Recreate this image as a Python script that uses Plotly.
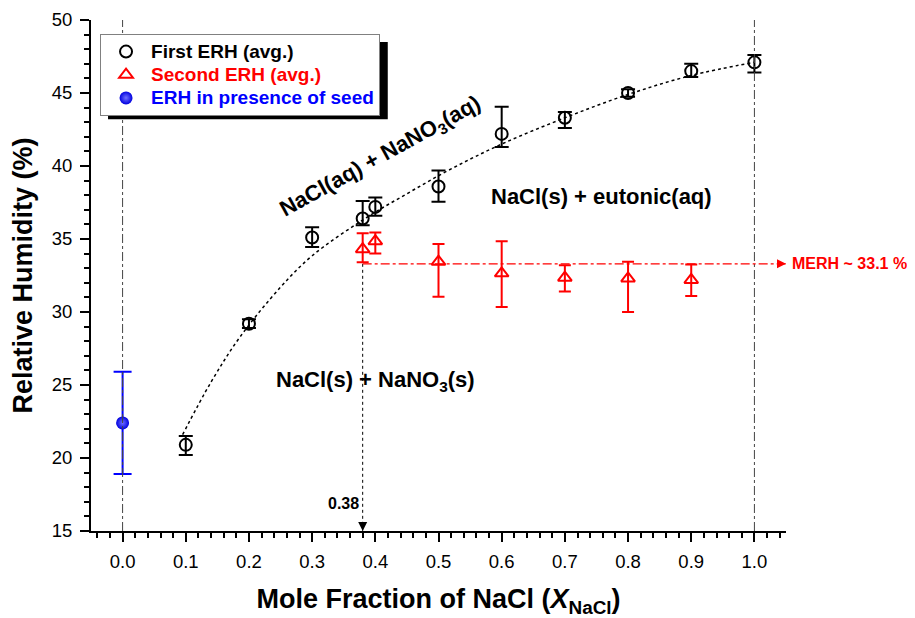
"""ERH vs mole fraction of NaCl, recreated with Plotly."""

import plotly.graph_objects as go

FONT = "Arial, Liberation Sans, sans-serif"
RED = "#FF0000"
BLUE = "#0000FF"

X_RANGE = [-0.05, 1.05]
Y_RANGE = [15, 50]

# First ERH (black open circles)
x_first = [0.1, 0.2, 0.3, 0.38, 0.4, 0.5, 0.6, 0.7, 0.8, 0.9, 1.0]
y_first = [20.9, 29.2, 35.1, 36.4, 37.2, 38.6, 42.2, 43.3, 45.0, 46.5, 47.1]
err_first_up = [0.6, 0.3, 0.7, 1.2, 0.65, 1.1, 1.85, 0.4, 0.25, 0.5, 0.5]
err_first_dn = [0.7, 0.3, 0.65, 0.45, 0.6, 1.05, 0.9, 0.7, 0.25, 0.4, 0.7]

# Second ERH (red open triangles)
x_second = [0.38, 0.4, 0.5, 0.6, 0.7, 0.8, 0.9]
y_second = [34.3, 34.85, 33.45, 32.65, 32.35, 32.3, 32.2]
err_second_up = [1.1, 0.6, 1.2, 2.2, 0.85, 1.15, 1.05]
err_second_dn = [0.9, 0.85, 2.4, 2.3, 0.95, 2.3, 1.1]

# ERH with seed (blue)
x_seed = [0.0]
y_seed = [22.4]
err_seed = [3.5]

# dotted guide curve
x_curve = [0.095, 0.14, 0.186, 0.25, 0.3, 0.38, 0.45, 0.52, 0.6, 0.7, 0.8, 0.9, 1.0]
y_curve = [21.6, 25.2, 28.3, 31.7, 33.85, 36.3, 38.1, 39.8, 41.5, 43.3, 44.9, 46.2, 47.1]

merh_y = 33.3
x_eutonic = 0.38


def legend_name(text, color):
    # bigger glyphs than the legend font so rows stay tight
    return f"<span style='color:{color};font-size:19px'>{text}</span>"


fig = go.Figure()

fig.add_trace(go.Scatter(
    x=x_curve, y=y_curve, mode="lines", line=dict(color="black", width=1.5, dash="dot", shape="spline"),
    showlegend=False, hoverinfo="skip",
))
fig.add_trace(go.Scatter(
    x=x_first, y=y_first, mode="markers", name=legend_name("First ERH (avg.)", "#000000"),
    marker=dict(symbol="circle-open", size=12, color="black", line=dict(width=2)),
    error_y=dict(type="data", array=err_first_up, arrayminus=err_first_dn,
                 color="black", thickness=2, width=7),
))
fig.add_trace(go.Scatter(
    x=x_second, y=y_second, mode="markers", name=legend_name("Second ERH (avg.)", RED),
    marker=dict(symbol="triangle-up-open", size=12, color=RED, line=dict(width=2)),
    error_y=dict(type="data", array=err_second_up, arrayminus=err_second_dn,
                 color=RED, thickness=2, width=6),
))
fig.add_trace(go.Scatter(
    x=x_seed, y=y_seed, mode="markers", name=legend_name("ERH in presence of seed", BLUE),
    marker=dict(symbol="circle", size=13, color="#0000E0",
                gradient=dict(type="radial", color="#7070FF"), line=dict(width=0)),
    error_y=dict(type="data", array=err_seed, color=BLUE, thickness=2, width=9),
))

# reference lines
for xv in [0.0, 1.0]:
    fig.add_shape(type="line", x0=xv, x1=xv, y0=Y_RANGE[0], y1=Y_RANGE[1], xref="x", yref="y",
                  line=dict(color="#444444", width=1, dash="dashdot"))
fig.add_shape(type="line", x0=x_eutonic, x1=x_eutonic, y0=merh_y, y1=Y_RANGE[0], xref="x", yref="y",
              line=dict(color="black", width=1, dash="dot"))
fig.add_shape(type="line", x0=x_eutonic, x1=X_RANGE[1], y0=merh_y, y1=merh_y, xref="x", yref="y",
              line=dict(color=RED, width=1.2, dash="dashdot"))

# arrowheads at the ends of the guide lines
fig.add_trace(go.Scatter(
    x=[x_eutonic], y=[Y_RANGE[0]], mode="markers", showlegend=False, hoverinfo="skip", cliponaxis=False,
    marker=dict(symbol="arrow-down", size=9, color="black", line=dict(width=0)),
))
fig.add_trace(go.Scatter(
    x=[X_RANGE[1]], y=[merh_y], mode="markers", showlegend=False, hoverinfo="skip", cliponaxis=False,
    marker=dict(symbol="arrow-right", size=9, color=RED, line=dict(width=0)),
))

# legend drop shadow
fig.add_shape(type="rect", xref="paper", yref="paper", x0=0.0245, x1=0.427, y0=0.806, y1=0.957,
              fillcolor="black", line=dict(width=0), layer="above")

bold = dict(family=FONT, color="black", size=22, weight="bold")
fig.add_annotation(x=0.409, y=40.6, xref="x", yref="y", text="NaCl(aq) + NaNO<sub>3</sub>(aq)",
                   textangle=-29, showarrow=False, font=bold)
fig.add_annotation(x=0.758, y=37.9, xref="x", yref="y", text="NaCl(s) + eutonic(aq)",
                   showarrow=False, font=bold)
fig.add_annotation(x=0.401, y=25.3, xref="x", yref="y", text="NaCl(s) + NaNO<sub>3</sub>(s)",
                   showarrow=False, font=bold)
fig.add_annotation(x=0.349, y=16.9, xref="x", yref="y", text="0.38",
                   showarrow=False, font=dict(family=FONT, color="black", size=16, weight="bold"))
fig.add_annotation(x=1.006, y=merh_y, xref="paper", yref="y", xanchor="left", text="MERH ~ 33.1 %",
                   showarrow=False, font=dict(family=FONT, color=RED, size=16, weight="bold"))

axis_common = dict(showline=True, linewidth=2, linecolor="black", showgrid=False, zeroline=False,
                   tickwidth=1.5, tickcolor="black", ticklen=9, automargin=False)
title_font = dict(family=FONT, size=27, weight="bold", color="black")

# the page body adds an 8px offset, so the figure is 8px smaller and margins shifted
fig.update_layout(
    width=907, height=610,
    paper_bgcolor="white", plot_bgcolor="white",
    margin=dict(l=83, r=129, t=12, b=87),
    font=dict(family=FONT, color="black", size=18.5),
    xaxis=dict(range=X_RANGE, tick0=0, dtick=0.1, tickformat=".1f", ticks="outside",
               ticklabelstandoff=4,
               minor=dict(dtick=0.02, ticks="outside", ticklen=5, tickwidth=1.5, tickcolor="black"),
               title=dict(text="Mole Fraction of NaCl (<i>X</i><sub>NaCl</sub>)",
                          font=title_font, standoff=20),
               **axis_common),
    xaxis2=dict(range=X_RANGE, tick0=0, dtick=0.1, overlaying="x", side="top", ticks="inside",
                showticklabels=False,
                minor=dict(dtick=0.02, ticks="inside", ticklen=5, tickwidth=1.5, tickcolor="black"),
                **axis_common),
    yaxis=dict(range=Y_RANGE, tick0=15, dtick=5, ticks="outside", ticklabelstandoff=4,
               minor=dict(dtick=1, ticks="outside", ticklen=5, tickwidth=1.5, tickcolor="black"),
               title=dict(text="Relative Humidity (%)", font=title_font, standoff=20),
               **axis_common),
    yaxis2=dict(range=Y_RANGE, tick0=15, dtick=5, overlaying="y", side="right", ticks="inside",
                showticklabels=False,
                minor=dict(dtick=1, ticks="inside", ticklen=5, tickwidth=1.5, tickcolor="black"),
                **axis_common),
    legend=dict(x=0.013, y=0.9726, xanchor="left", yanchor="top", bgcolor="white",
                bordercolor="#808080", borderwidth=1,
                font=dict(family=FONT, size=15.5, weight="bold", color="black"),
                tracegroupgap=0, itemwidth=40),
)

fig.write_html("out.html")
